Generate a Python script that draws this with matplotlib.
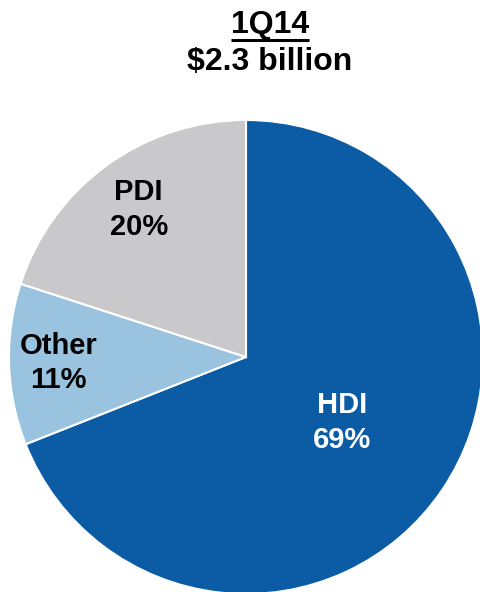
import matplotlib.pyplot as plt
import numpy as np

plt.rcParams['font.family'] = ['Liberation Sans', 'DejaVu Sans']

segments = ['HDI', 'Other', 'PDI']
shares = [69, 11, 20]
colors = ['#0B5BA5', '#9AC3E0', '#C9C9CB']
text_colors = ['white', 'black', 'black']
label_radius = [0.49, 0.79, 0.77]   # fraction of pie radius for each label

W, H = 481, 592
fig = plt.figure(figsize=(W / 100, H / 100), dpi=100)
ax = fig.add_axes([0, 0, 1, 1])

cx, cy, r = 246, H - 357, 237
wedges, _ = ax.pie(shares, colors=colors, startangle=90, counterclock=False,
                   center=(cx, cy), radius=r, frame=True,
                   wedgeprops=dict(edgecolor='white', linewidth=1.5))
ax.set_xlim(0, W)
ax.set_ylim(0, H)
ax.set_aspect('equal')
ax.axis('off')

# labels inside each wedge
for w, name, val, tc, lr in zip(wedges, segments, shares, text_colors, label_radius):
    mid = np.deg2rad((w.theta1 + w.theta2) / 2)
    x = cx + lr * r * np.cos(mid)
    y = cy + lr * r * np.sin(mid)
    ax.text(x, y, f'{name}\n{val}%', ha='center', va='center', color=tc,
            fontsize=21, fontweight='bold', linespacing=1.3)

# title
t1 = ax.text(270, H - 25, '1Q14', ha='center', va='center',
             fontsize=23, fontweight='bold')
ax.text(270, H - 62, '$2.3 billion', ha='center', va='center',
        fontsize=23, fontweight='bold')

# underline under 1Q14
fig.canvas.draw()
bb = t1.get_window_extent().transformed(ax.transData.inverted())
ax.plot([bb.x0, bb.x1], [H - 40, H - 40], color='black', lw=2.2,
        solid_capstyle='butt')

fig.savefig('out.png', dpi=100)
